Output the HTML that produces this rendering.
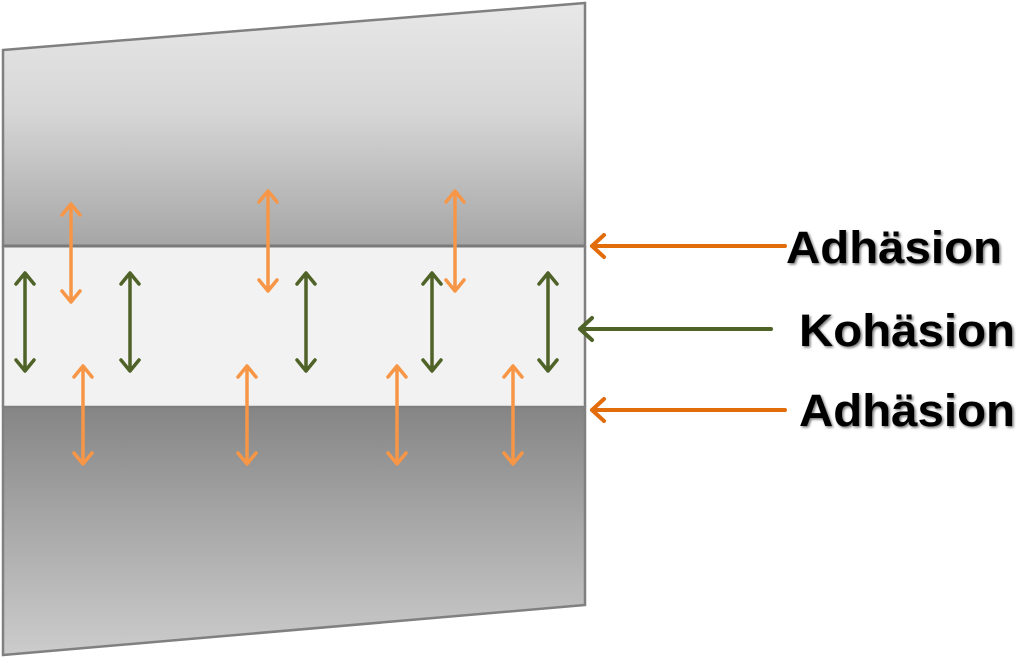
<!DOCTYPE html>
<html><head><meta charset="utf-8"><style>html,body{margin:0;padding:0;background:#fff}svg{display:block}</style></head><body>
<svg width="1020" height="658" viewBox="0 0 1020 658" xmlns="http://www.w3.org/2000/svg">
<defs>
<linearGradient id="gt" x1="0" y1="0" x2="0" y2="1"><stop offset="0" stop-color="#e8e8e8"/><stop offset="0.45" stop-color="#d6d6d6"/><stop offset="1" stop-color="#a6a6a6"/></linearGradient>
<linearGradient id="gb" x1="0" y1="0" x2="0" y2="1"><stop offset="0" stop-color="#858585"/><stop offset="0.5" stop-color="#aaaaaa"/><stop offset="1" stop-color="#cccccc"/></linearGradient>
<filter id="sh"><feDropShadow dx="1.5" dy="1.5" stdDeviation="1.2" flood-color="#000" flood-opacity="0.55"/></filter>
</defs>
<polygon points="3,50 585,3 585,246 3,246" fill="url(#gt)" stroke="#808080" stroke-width="2.5"/>
<rect x="3" y="246" width="582" height="161" fill="#f2f2f2"/>
<polygon points="3,407 585,407 585,605 3,655" fill="url(#gb)" stroke="#808080" stroke-width="2.5"/>
<line x1="3" y1="246" x2="585" y2="246" stroke="#7a7a7a" stroke-width="3"/>
<line x1="3" y1="246" x2="3" y2="407" stroke="#808080" stroke-width="2.5"/>
<line x1="585" y1="246" x2="585" y2="407" stroke="#808080" stroke-width="2.5"/>
<g fill="none" stroke="#f79646" stroke-width="3.5" stroke-linecap="round" stroke-linejoin="round">
<path d="M71,205V300M62,215L71,204L80,215M62,291L71,302L80,291"/>
<path d="M268,192V289M259,202L268,191L277,202M259,280L268,291L277,280"/>
<path d="M455,192V289M446,202L455,191L464,202M446,280L455,291L464,280"/>
<path d="M83,367V462M74,377L83,366L92,377M74,453L83,464L92,453"/>
<path d="M247,367V462M238,377L247,366L256,377M238,453L247,464L256,453"/>
<path d="M397,367V462M388,377L397,366L406,377M388,453L397,464L406,453"/>
<path d="M513,367V462M504,377L513,366L522,377M504,453L513,464L522,453"/>
</g>
<g fill="none" stroke="#4f6228" stroke-width="3.5" stroke-linecap="round" stroke-linejoin="round">
<path d="M25,274V370M16,284L25,273L34,284M16,360L25,371L34,360"/>
<path d="M130,274V370M121,284L130,273L139,284M121,360L130,371L139,360"/>
<path d="M306,274V370M297,284L306,273L315,284M297,360L306,371L315,360"/>
<path d="M432,274V370M423,284L432,273L441,284M423,360L432,371L441,360"/>
<path d="M548,274V370M539,284L548,273L557,284M539,360L548,371L557,360"/>
</g>
<g fill="none" stroke-width="4" stroke-linecap="round" stroke-linejoin="round">
<path d="M592,246H785M604,235L592,246L604,257" stroke="#e36c0a"/>
<path d="M580,329H771M592,318L580,329L592,340" stroke="#4f6228"/>
<path d="M592,410H785M604,399L592,410L604,421" stroke="#e36c0a"/>
</g>
<g font-family="Liberation Sans, sans-serif" font-weight="bold" font-size="45" fill="#000" filter="url(#sh)">
<text x="786" y="263" textLength="216" lengthAdjust="spacingAndGlyphs">Adhäsion</text>
<text x="799" y="346" textLength="216" lengthAdjust="spacingAndGlyphs">Kohäsion</text>
<text x="799" y="426" textLength="216" lengthAdjust="spacingAndGlyphs">Adhäsion</text>
</g>
</svg>
</body></html>
